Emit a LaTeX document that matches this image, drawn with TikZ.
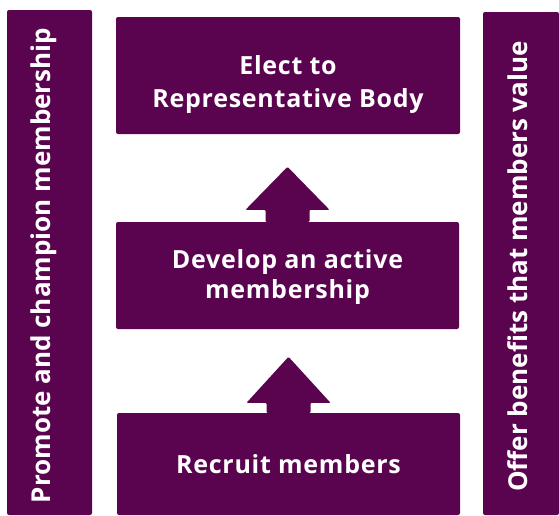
\documentclass[tikz,border=0pt]{standalone}
\usepackage{fontspec}
\setmainfont{Open Sans}
\usetikzlibrary{calc}
\definecolor{plum}{RGB}{90,4,80}
\tikzset{
  panel/.style={fill=plum, rounded corners=2pt, inner sep=0pt},
  paneltext/.style={text=white, inner sep=0pt, align=center,
    font=\bfseries\fontsize{25}{#1}\selectfont\addfontfeatures{LetterSpace=3}},
  paneltext/.default=33,
  sidetext/.style={rotate=90, text=white, inner sep=0pt,
    font=\bfseries\fontsize{26}{30}\selectfont},
  blockarrow/.style={fill=plum, rounded corners=1pt}
}
\begin{document}
\begin{tikzpicture}[x=1pt, y=-1pt]
  \useasboundingbox (0,0) rectangle (559,515);

  % side bars
  \node[panel, minimum width=85pt, minimum height=505pt] (promote) at (49.5,262.5) {};
  \node[sidetext] (promotetxt) at (44,265.5) {Promote and champion membership};
  \node[panel, minimum width=76pt, minimum height=503pt] (offer) at (521,263.5) {};
  \node[sidetext] (offertxt) at (518,266.5) {Offer benefits that members value};

  % stacked boxes
  \node[panel, minimum width=344pt, minimum height=117pt] (elect) at (288,75.5) {};
  \node[paneltext=33] (electtxt) at (288,85) {Elect to\\Representative Body};
  \node[panel, minimum width=343pt, minimum height=107pt] (develop) at (287.5,275.5) {};
  \node[paneltext=30] (developtxt) at (287.5,276.5) {Develop an active\\membership};
  \node[panel, minimum width=343pt, minimum height=102pt] (recruit) at (288.5,464) {};
  \node[paneltext] (recruittxt) at (288.5,464) {Recruit members};

  % block arrows pointing upward between the boxes
  \fill[blockarrow] ($(develop.north)+(-22,0)$) -- ++(0,-12) -- ++(-20,0)
    -- ($(develop.north)+(0,-55)$) -- ($(develop.north)+(42,-12)$) -- ++(-20,0)
    -- ($(develop.north)+(22,0)$) -- cycle;
  \fill[blockarrow] ($(recruit.north)+(-22,0)$) -- ++(0,-10) -- ++(-20,0)
    -- ($(recruit.north)+(0,-56)$) -- ($(recruit.north)+(42,-10)$) -- ++(-20,0)
    -- ($(recruit.north)+(22,0)$) -- cycle;
\end{tikzpicture}
\end{document}
